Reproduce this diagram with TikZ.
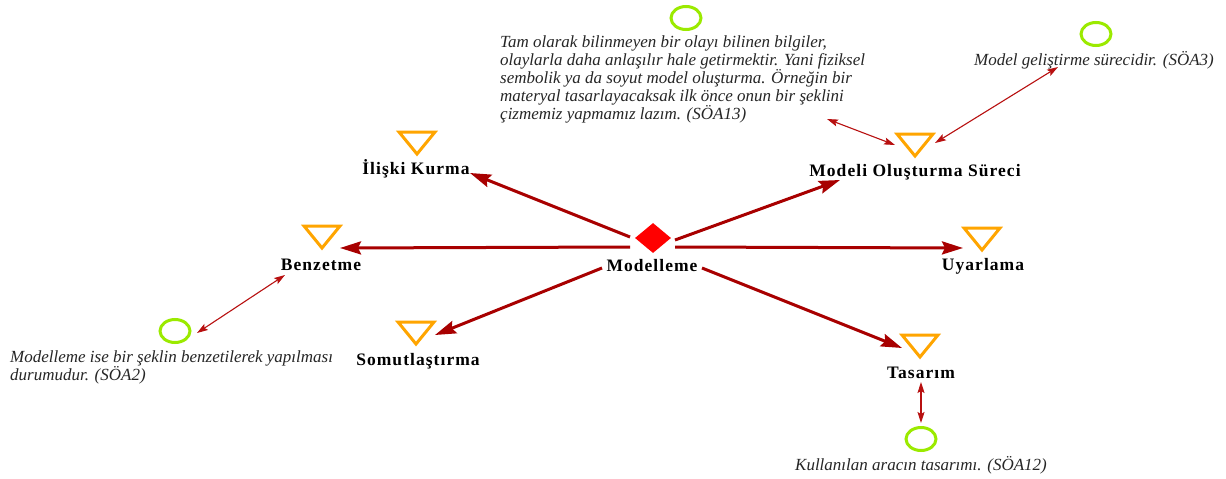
\documentclass[tikz,border=0pt]{standalone}
\usepackage{fontspec}
\setmainfont{Liberation Serif}
\newfontfamily\lblfont{Liberation Serif}[LetterSpace=6]
\usetikzlibrary{shapes.geometric,arrows.meta}
\definecolor{mainred}{HTML}{A80000}
\definecolor{thinred}{HTML}{B81010}
\definecolor{triorange}{HTML}{FFA500}
\definecolor{ringgreen}{HTML}{9BEA00}
\definecolor{notegray}{HTML}{262626}
\tikzset{
  hub/.style={diamond, fill=red, minimum width=36pt, minimum height=30pt, inner sep=0pt, aspect=1.2},
  lbl/.style={inner sep=0pt, font={\lblfont\bfseries\fontsize{17.5}{19}\selectfont}},
  marker/.style={minimum width=46pt, minimum height=32pt, inner sep=0pt,
    path picture={\draw[triorange, line width=3pt]
      ([shift={(-18pt,11pt)}]path picture bounding box.center) --
      ([shift={(18pt,11pt)}]path picture bounding box.center) --
      ([shift={(0pt,-11pt)}]path picture bounding box.center) -- cycle;}},
  ring/.style={ellipse, draw=ringgreen, line width=3pt, minimum width=30pt, minimum height=23pt, inner sep=0pt},
  note/.style={inner sep=0pt, text=notegray, align=left, font={\itshape\fontsize{17}{18}\selectfont}},
  mainarrow/.style={draw=mainred, line width=3pt, -{Stealth[length=21pt,width=13pt,inset=3pt]}},
  linkarrow/.style={draw=thinred, line width=1.1pt, {Stealth[length=11pt,width=7pt,inset=2pt]}-{Stealth[length=11pt,width=7pt,inset=2pt]}}
}
\begin{document}
\begin{tikzpicture}[x=1pt,y=-1pt]
\useasboundingbox (0,0) rectangle (1226,479);
\fill[white] (0,0) rectangle (1226,479);

% central concept
\node[hub] (dia) at (653,238) {};
\node[lbl] (modl) at (652,266) {Modelleme};

% sub-concepts: marker triangles and their labels
\node[marker] (ti) at (417,143) {};
\node[lbl] (ilk) at (416,169) {İlişki Kurma};
\node[marker] (tm) at (915,145) {};
\node[lbl] (mod) at (915,172) {Modeli Oluşturma Süreci};
\node[marker] (tb) at (322,237) {};
\node[lbl] (benz) at (321,265) {Benzetme};
\node[marker] (tu) at (982,239) {};
\node[lbl] (uyar) at (983,266) {Uyarlama};
\node[marker] (ts) at (416,333) {};
\node[lbl] (somut) at (418,361) {Somutlaştırma};
\node[marker] (tt) at (920,346) {};
\node[lbl] (tas) at (921,373) {Tasarım};

% quotation rings and notes
\node[ring] (c1) at (686,18) {};
\node[note, anchor=west] (n1) at (500,79) {Tam olarak bilinmeyen bir olayı bilinen bilgiler,\\
olaylarla daha anlaşılır hale getirmektir. Yani fiziksel\\
sembolik ya da soyut model oluşturma. Örneğin bir\\
materyal tasarlayacaksak ilk önce onun bir şeklini\\
çizmemiz yapmamız lazım. (SÖA13)};
\node[ring] (c2) at (1096,34) {};
\node[note] (n3) at (1094,60) {Model geliştirme sürecidir. (SÖA3)};
\node[ring] (c3) at (175,331) {};
\node[note, anchor=west] (n2) at (10,367) {Modelleme ise bir şeklin benzetilerek yapılması\\
durumudur. (SÖA2)};
\node[ring] (c4) at (921,439) {};
\node[note] (n4) at (921,465) {Kullanılan aracın tasarımı. (SÖA12)};

% main connectors from the central concept
\draw[mainarrow] ([xshift=-23pt,yshift=1pt]dia.center) -- ([xshift=54pt,yshift=-4pt]ilk.center);
\draw[mainarrow] ([xshift=22pt,yshift=-2pt]dia.center) -- ([xshift=-75pt,yshift=-8pt]mod.center);
\draw[mainarrow] ([xshift=-23pt,yshift=-9pt]dia.center) -- ([xshift=18pt,yshift=-11pt]tb.center);
\draw[mainarrow] ([xshift=22pt,yshift=-9pt]dia.center) -- ([xshift=-19pt,yshift=-9pt]tu.center);
\draw[mainarrow] ([xshift=-51pt,yshift=-30pt]dia.center) -- ([xshift=19pt,yshift=-2pt]ts.center);
\draw[mainarrow] ([xshift=49pt,yshift=-30pt]dia.center) -- ([xshift=-18pt,yshift=-2pt]tt.center);

% links to the quotations
\draw[linkarrow] ([xshift=-36pt,yshift=-10pt]benz.center) -- ([xshift=22pt,yshift=-2pt]c3.center);
\draw[linkarrow] ([yshift=-9pt]tas.center) -- ([yshift=16pt]c4.center);
\draw[linkarrow] ([xshift=-20pt]tm.center) -- ([xshift=327pt,yshift=-40pt]n1.west);
\draw[linkarrow] ([xshift=20pt,yshift=2pt]tm.center) -- ([xshift=-36pt,yshift=-7pt]n3.center);
\end{tikzpicture}
\end{document}
